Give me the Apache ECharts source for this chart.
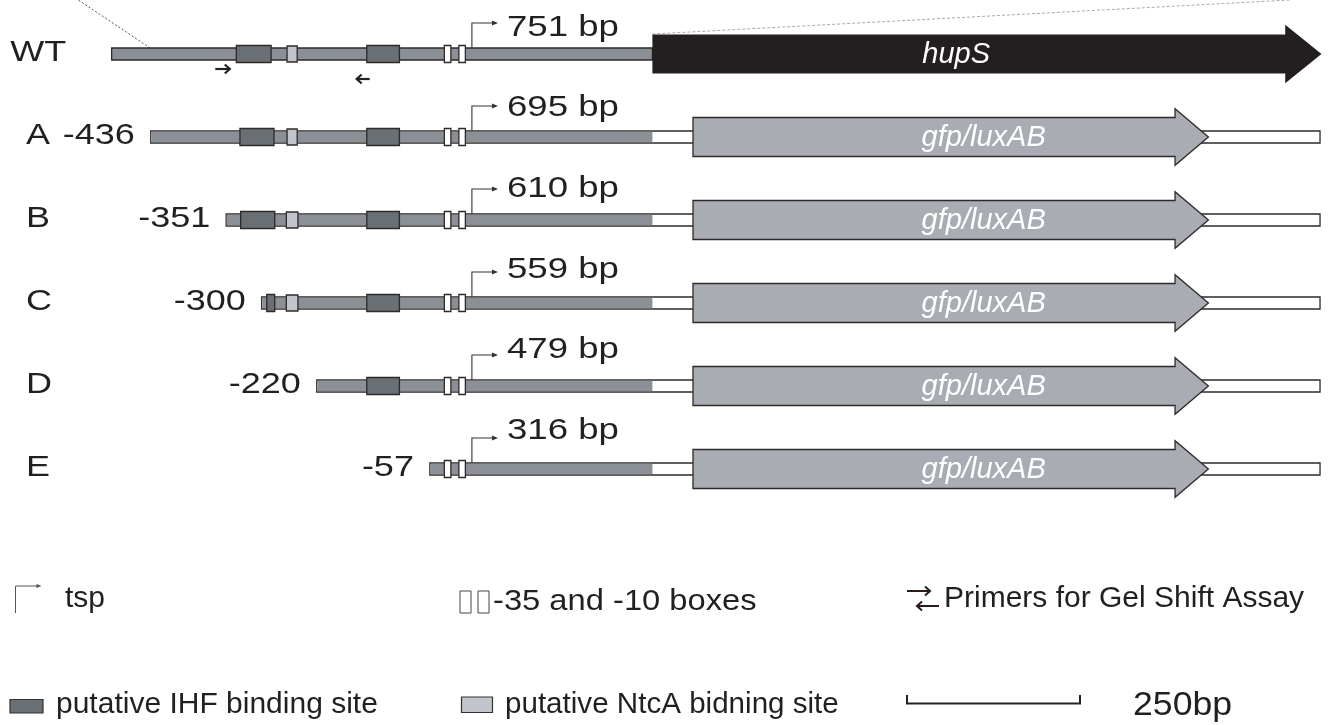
<!DOCTYPE html>
<html><head><meta charset="utf-8">
<script src="https://cdn.jsdelivr.net/npm/echarts/dist/echarts.min.js"></script>
<style>html,body{margin:0;padding:0;background:#fff}#c{width:1328px;height:725px}</style>
</head><body><div id="c"></div>
<script>
// ---------- data (positions in bp relative to the transcription start point) ----------
const constructs = ['WT', 'A', 'B', 'C', 'D', 'E'];
const startLabels = ['', '-436', '-351', '-300', '-220', '-57'];
const fragmentLabels = ['751 bp', '695 bp', '610 bp', '559 bp', '479 bp', '316 bp'];
const fragmentStart = [-497, -443, -339, -290, -214, -58];
const fragmentEnd = 249;                       // translation start of hupS
const ihfSites = [[0, -325, -277], [0, -145, -100], [1, -320, -273], [1, -145, -100],
                  [2, -319, -272], [2, -145, -100], [3, -283, -272], [3, -145, -100], [4, -145, -100]];
const ntcaSites = [[0, -255, -241], [1, -255, -241], [2, -256, -240], [3, -256, -240]];
const coreBoxes = [[-38, -29], [-18, -9]];     // -35 and -10 boxes
const tspArrowEnd = 36;
const hupSGene = [249, 1122, 1172];            // start, body end, tip
const reporterGene = [305, 970, 1016, 1170];   // start, body end, tip, vector end
const primers = [[-354, -334], [-141, -159]];  // forward, reverse (from, to)
const zoomGuides = [[-444, -543], [249, 1128]];

// ---------- styles ----------
const FONT = "'Liberation Sans', Arial, Helvetica, sans-serif";
const INK = '#231f20', EDGE = '#2d2a2b';
const GREY = '#8a9095', IHF = '#6a6f74', NTCA = '#c2c5cb', GFP = '#a9acb3';
const LW = 1.3;

function rowRect(api, x0, x1, row, h, style) {
  const a = api.coord([x0, row]), b = api.coord([x1, row]);
  return { type: 'rect', shape: { x: a[0], y: a[1] - h / 2, width: b[0] - a[0], height: h }, style: style };
}
function txt(x, y, text, size, opts) {
  opts = opts || {};
  return {
    type: 'text', x: x, y: y, scaleX: opts.sx || 1,
    style: { text: text, x: 0, y: 0, fill: opts.fill || INK, fontSize: size, fontFamily: FONT,
             fontStyle: opts.italic ? 'italic' : 'normal',
             align: opts.align || 'left', verticalAlign: 'middle' }
  };
}

const chart = echarts.init(document.getElementById('c'), null, { renderer: 'canvas' });

const series = [
  { // dotted zoom guides
    type: 'custom', data: [[0]], silent: true,
    renderItem(params, api) {
      const a = api.coord([zoomGuides[0][0], 0]), b = api.coord([zoomGuides[0][1], -0.6506]);
      const c = api.coord([zoomGuides[1][0], 0]), d = api.coord([zoomGuides[1][1], -0.6506]);
      return { type: 'group', children: [
        { type: 'line', shape: { x1: a[0], y1: a[1] - 6, x2: b[0], y2: b[1] }, style: { stroke: '#555', lineWidth: 1, lineDash: [2, 2] } },
        { type: 'line', shape: { x1: c[0], y1: c[1] - 20, x2: d[0], y2: d[1] }, style: { stroke: '#aaa', lineWidth: 1, lineDash: [3, 2] } }
      ] };
    }
  },
  { // DNA backbones
    type: 'custom', silent: true,
    data: constructs.map((c, i) => [i, fragmentStart[i]]),
    renderItem(params, api) {
      const row = api.value(0), s = api.value(1), h = 12;
      const a = api.coord([s, row]), e = api.coord([fragmentEnd, row]);
      const ch = [];
      if (row === 0) {
        ch.push(rowRect(api, s, fragmentEnd, row, h, { fill: GREY, stroke: EDGE, lineWidth: LW }));
      } else {
        const t0 = api.coord([reporterGene[2], row]), t1 = api.coord([reporterGene[3], row]);
        ch.push({ type: 'rect', shape: { x: t0[0] - 15, y: a[1] - h / 2, width: t1[0] - t0[0] + 15, height: h }, style: { fill: '#fff', stroke: EDGE, lineWidth: LW } });
        const r = api.coord([reporterGene[0], row]);
        ch.push({ type: 'rect', shape: { x: a[0], y: a[1] - h / 2, width: r[0] - a[0] + 3, height: h }, style: { fill: '#fff', stroke: EDGE, lineWidth: LW } });
        ch.push({ type: 'rect', shape: { x: a[0] + LW / 2, y: a[1] - h / 2 + LW / 2, width: e[0] - a[0] - LW / 2, height: h - LW }, style: { fill: GREY } });
      }
      return { type: 'group', children: ch };
    }
  },
  { // IHF binding sites
    type: 'custom', silent: true, data: ihfSites,
    renderItem(params, api) {
      return rowRect(api, api.value(1), api.value(2), api.value(0), 17, { fill: IHF, stroke: EDGE, lineWidth: LW });
    }
  },
  { // NtcA binding sites
    type: 'custom', silent: true, data: ntcaSites,
    renderItem(params, api) {
      return rowRect(api, api.value(1), api.value(2), api.value(0), 16, { fill: NTCA, stroke: EDGE, lineWidth: LW });
    }
  },
  { // -35 / -10 boxes
    type: 'custom', silent: true,
    data: constructs.flatMap((c, i) => coreBoxes.map(b => [i, b[0], b[1]])),
    renderItem(params, api) {
      return rowRect(api, api.value(1), api.value(2), api.value(0), 17, { fill: '#fff', stroke: EDGE, lineWidth: LW });
    }
  },
  { // transcription start arrows + fragment lengths
    type: 'custom', silent: true,
    data: constructs.map((c, i) => [i]),
    renderItem(params, api) {
      const row = api.value(0);
      const o = api.coord([0, row]), e = api.coord([tspArrowEnd, row]);
      const yT = o[1] - 31;
      return { type: 'group', children: [
        { type: 'polyline', shape: { points: [[o[0], o[1] - 6], [o[0], yT], [e[0] - 4, yT]] }, style: { stroke: '#333', lineWidth: 1.1, fill: null } },
        { type: 'polygon', shape: { points: [[e[0], yT], [e[0] - 6, yT - 2.6], [e[0] - 6, yT + 2.6]] }, style: { fill: '#333' } },
        txt(e[0] + 9, o[1] - 26.5 - 2.4 * row, fragmentLabels[row], 30, { sx: 1.22 })
      ] };
    }
  },
  { // genes: hupS (WT) and gfp/luxAB reporter
    type: 'custom', silent: true,
    data: constructs.map((c, i) => [i]),
    renderItem(params, api) {
      const row = api.value(0);
      const g = row === 0 ? hupSGene : reporterGene;
      const s = api.coord([g[0], row]), be = api.coord([g[1], row]), tip = api.coord([g[2], row]);
      const y = s[1], bh = 19.5, hh = row === 0 ? 29.3 : 28.3;
      const pts = [[s[0], y - bh], [be[0], y - bh], [be[0], y - hh], [tip[0], y], [be[0], y + hh], [be[0], y + bh], [s[0], y + bh]];
      const label = row === 0 ? 'hupS' : 'gfp/luxAB';
      const lc = api.coord([row === 0 ? 668 : 706, row]);
      return { type: 'group', children: [
        { type: 'polygon', shape: { points: pts }, style: row === 0 ? { fill: INK } : { fill: GFP, stroke: EDGE, lineWidth: LW } },
        txt(lc[0], y + 1, label, 29, { italic: true, fill: '#fff', align: 'center' })
      ] };
    }
  },
  { // primers for gel shift assay
    type: 'custom', silent: true, data: primers,
    renderItem(params, api) {
      const i = params.dataIndex, row = 0;
      const a = api.coord([api.value(0), row]), b = api.coord([api.value(1), row]);
      const y = a[1] + (i === 0 ? 15 : 25), dir = b[0] > a[0] ? 1 : -1;
      return { type: 'group', children: [
        { type: 'line', shape: { x1: a[0], y1: y, x2: b[0], y2: y }, style: { stroke: '#222', lineWidth: 2.2 } },
        { type: 'polyline', shape: { points: [[b[0] - dir * 5, y - 4.5], [b[0], y], [b[0] - dir * 5, y + 4.5]] }, style: { stroke: '#222', lineWidth: 2.2, fill: null } }
      ] };
    }
  },
  { // construct names and 5' end labels
    type: 'custom', silent: true,
    data: constructs.map((c, i) => [i, fragmentStart[i]]),
    renderItem(params, api) {
      const row = api.value(0), s = api.value(1);
      const n = api.coord([row === 0 ? -637 : -615, row]);
      const ch = [txt(n[0], n[1] - 1, constructs[row], 30, { sx: 1.2 })];
      if (startLabels[row]) {
        const p = api.coord([s - 22, row]);
        ch.push(txt(p[0], p[1] - 1, startLabels[row], 30, { sx: 1.2, align: 'right' }));
      }
      return { type: 'group', children: ch };
    }
  }
];

// ---------- legend ----------
function gtext(x, y, text, size, sx) {
  return { type: 'text', x: x, y: y, scaleX: sx || 1,
           style: { text: text, x: 0, y: 0, fill: INK, fontSize: size, fontFamily: FONT, align: 'left', verticalAlign: 'middle' } };
}
const graphic = [
  { type: 'polyline', shape: { points: [[15.5, 613], [15.5, 586], [37, 586]] }, style: { stroke: '#555', lineWidth: 1, fill: null } },
  { type: 'polygon', shape: { points: [[41.5, 586], [36.5, 584], [36.5, 588]] }, style: { fill: '#555' } },
  gtext(65, 599, 'tsp', 30),
  { type: 'rect', shape: { x: 460, y: 591, width: 11, height: 22 }, style: { fill: '#fff', stroke: '#444', lineWidth: 1 } },
  { type: 'rect', shape: { x: 478, y: 591, width: 11, height: 22 }, style: { fill: '#fff', stroke: '#444', lineWidth: 1 } },
  gtext(493, 602, '-35 and -10 boxes', 30, 1.09),
  { type: 'line', shape: { x1: 907, y1: 591, x2: 930, y2: 591 }, style: { stroke: '#2a1a1a', lineWidth: 2 } },
  { type: 'polyline', shape: { points: [[925, 586.5], [930, 591], [925, 595.5]] }, style: { stroke: '#2a1a1a', lineWidth: 2, fill: null } },
  { type: 'line', shape: { x1: 917, y1: 606, x2: 939, y2: 606 }, style: { stroke: '#2a1a1a', lineWidth: 2 } },
  { type: 'polyline', shape: { points: [[922, 601.5], [917, 606], [922, 610.5]] }, style: { stroke: '#2a1a1a', lineWidth: 2, fill: null } },
  gtext(944, 599, 'Primers for Gel Shift Assay', 30),
  { type: 'rect', shape: { x: 10, y: 699.5, width: 33, height: 13.5 }, style: { fill: IHF, stroke: '#333', lineWidth: 1.2 } },
  gtext(56, 705, 'putative IHF binding site', 30),
  { type: 'rect', shape: { x: 461.5, y: 697, width: 31, height: 15.5 }, style: { fill: NTCA, stroke: '#333', lineWidth: 1.2 } },
  gtext(505, 705, 'putative NtcA bidning site', 29, 1.02),
  { type: 'polyline', shape: { points: [[907, 695], [907, 703.5], [1080, 703.5], [1080, 695]] }, style: { stroke: '#222', lineWidth: 2, fill: null } },
  gtext(1133, 706, '250bp', 33, 1.08)
];

chart.setOption({
  animation: false,
  backgroundColor: '#fff',
  grid: { left: 0, right: 0, top: 0, bottom: 0, containLabel: false },
  xAxis: { type: 'value', min: -651, max: 1181, show: false },
  yAxis: { type: 'value', inverse: true, min: -0.6506, max: 8.0843, show: false },
  series: series,
  graphic: graphic
});
</script>
</body></html>
